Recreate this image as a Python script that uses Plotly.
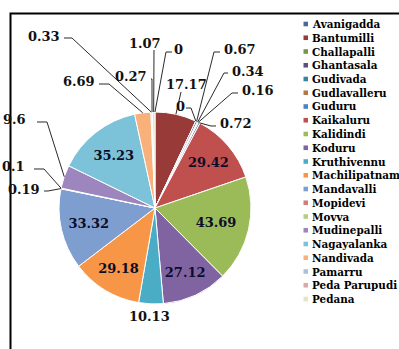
import math
import plotly.graph_objects as go

# Mandal names and their values, in slice order (clockwise from 12 o'clock)
mandals = ["Avanigadda", "Bantumilli", "Challapalli", "Ghantasala", "Gudivada",
           "Gudlavalleru", "Guduru", "Kaikaluru", "Kalidindi", "Koduru",
           "Kruthivennu", "Machilipatnam", "Mandavalli", "Mopidevi", "Movva",
           "Mudinepalli", "Nagayalanka", "Nandivada", "Pamarru", "Peda Parupudi",
           "Pedana"]
values = [0, 17.17, 0, 0.67, 0.34, 0.16, 0.72, 29.42, 43.69, 27.12, 10.13,
          29.18, 33.32, 0.19, 0.1, 9.6, 35.23, 6.69, 0.33, 0.27, 1.07]

slice_colors = ["#46699A", "#983A37", "#7A9541", "#624C7E", "#35879E", "#B0784A",
                "#4F81BD", "#C0504D", "#9BBB59", "#8064A2", "#4BACC6", "#F79646",
                "#7F9ED0", "#D07D7B", "#B5CD85", "#9D85BE", "#7CC3D9", "#F9B07A",
                "#A9C0DE", "#DCA9A8", "#E6E4C4"]

# slices whose value sits inside the pie
inside_names = {"Kaikaluru", "Kalidindi", "Koduru", "Machilipatnam",
                "Mandavalli", "Nagayalanka"}

W, H = 399, 349
CX, CY, R = 155, 208, 96
SERIF = "DejaVu Serif"


def px(x):
    return x / W


def py(y):
    return 1 - y / H


def fmt(v):
    return f"{v:g}"


# outside label placement: text anchor point and leader-line points (pixels)
outside = {
    "Pamarru":       dict(t=(62, 36, "right"), path=[(64, 38), (72, 38)]),
    "Nandivada":     dict(t=(97, 81, "right"), path=[(99, 84), (109, 84)]),
    "Peda Parupudi": dict(t=(149, 76, "right"), path=[(151, 79), (152, 79)]),
    "Pedana":        dict(t=(145, 44, "center"), path=[(154, 50)]),
    "Avanigadda":    dict(t=(178, 50, "center"), path=[(172, 52), (166, 52)]),
    "Bantumilli":    dict(t=(186, 85, "center"), path=[(181, 92)]),
    "Challapalli":   dict(t=(180, 106, "center"), path=[(186, 108), (191, 108)]),
    "Ghantasala":    dict(t=(222, 50, "left"), path=[(220, 52), (214, 52)]),
    "Gudivada":      dict(t=(230, 71, "left"), path=[(228, 73), (224, 73)]),
    "Gudlavalleru":  dict(t=(240, 91, "left"), path=[(238, 93), (232, 93)]),
    "Guduru":        dict(t=(218, 124, "left"), path=[(216, 126), (211, 126)]),
    "Kruthivennu":   dict(t=(149, 316, "center"), path=[]),
    "Mudinepalli":   dict(t=(28, 120, "right"), path=[(37, 122), (47, 122)]),
    "Movva":         dict(t=(27, 167, "right"), path=[(34, 169), (44, 169)]),
    "Mopidevi":      dict(t=(42, 189, "right"), path=[(44, 191), (48, 191)]),
}

total = sum(values)
cum = 0.0
edge = {}
for name, v in zip(mandals, values):
    mid = (cum + v / 2) / total * 2 * math.pi
    edge[name] = (CX + R * math.sin(mid), CY - R * math.cos(mid))
    cum += v

texts = [fmt(v) if n in inside_names else "" for n, v in zip(mandals, values)]
positions = ["inside" if n in inside_names else "none" for n in mandals]

fig = go.Figure(go.Pie(
    labels=mandals,
    values=values,
    sort=False,
    direction="clockwise",
    rotation=0,
    marker=dict(colors=slice_colors, line=dict(color="white", width=1)),
    text=texts,
    textinfo="text",
    textposition=positions,
    insidetextorientation="horizontal",
    insidetextfont=dict(family=SERIF, size=13, color="#0d0d2a", weight="bold"),
    domain=dict(x=[px(CX - R), px(CX + R)], y=[py(CY + R), py(CY - R)]),
    showlegend=False,
    hoverinfo="label+value",
))

annotations = []
shapes = []

# outside value labels with leader lines
for name, v in zip(mandals, values):
    if name not in outside:
        continue
    spec = outside[name]
    tx, ty, anchor = spec["t"]
    annotations.append(dict(
        x=px(tx), y=py(ty), xref="paper", yref="paper", text=fmt(v),
        showarrow=False, xanchor=anchor, yanchor="middle",
        font=dict(family=SERIF, size=13, color="#111111", weight="bold"),
    ))
    if spec["path"]:
        pts = spec["path"] + [edge[name]]
        d = "M " + " L ".join(f"{px(x):.5f},{py(y):.5f}" for x, y in pts)
        shapes.append(dict(type="path", path=d, xref="paper", yref="paper",
                           line=dict(color="#2a2a2a", width=1)))

# legend drawn as a compact list
LEG_X, LEG_Y0, LEG_DY = 303.5, 24, 13.75
for i, (name, col) in enumerate(zip(mandals, slice_colors)):
    y = LEG_Y0 + i * LEG_DY
    shapes.append(dict(type="rect", xref="paper", yref="paper",
                       x0=px(LEG_X), x1=px(LEG_X + 4.5),
                       y0=py(y + 2.3), y1=py(y - 2.3),
                       fillcolor=col, line=dict(width=0)))
    annotations.append(dict(
        x=px(LEG_X + 6), y=py(y), xref="paper", yref="paper", text=name,
        showarrow=False, xanchor="left", yanchor="middle",
        font=dict(family=SERIF, size=10.4, color="#000000", weight="bold"),
    ))

# chart frame (left and top edges)
shapes.append(dict(type="path", xref="paper", yref="paper",
                   path=f"M {px(10.5)},{py(349)} L {px(10.5)},{py(13.5)} L {px(399)},{py(13.5)}",
                   line=dict(color="black", width=2)))

fig.update_layout(
    width=W, height=H,
    margin=dict(l=0, r=0, t=0, b=0),
    paper_bgcolor="white",
    plot_bgcolor="white",
    annotations=annotations,
    shapes=shapes,
)

fig.write_html("out.html")
